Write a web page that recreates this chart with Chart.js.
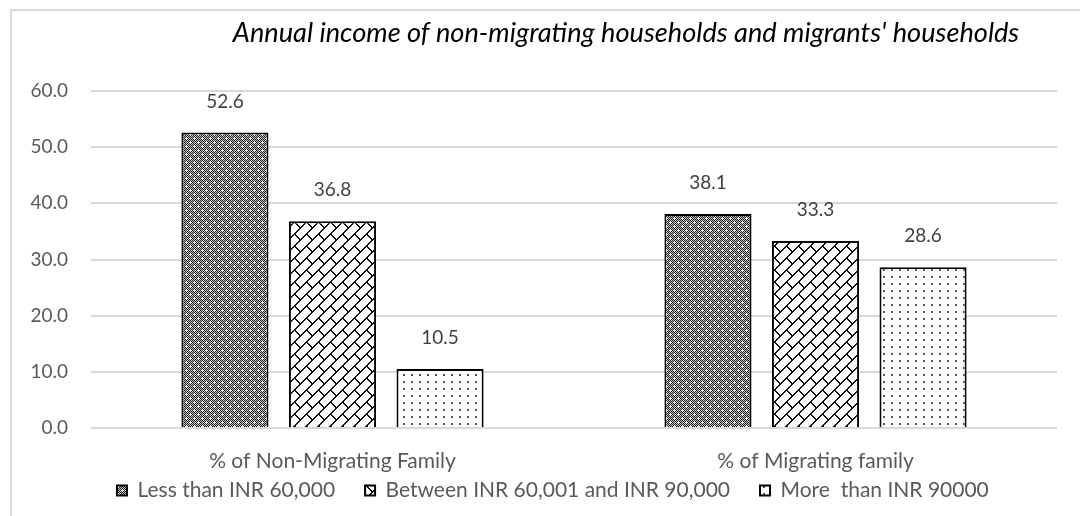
<!DOCTYPE html>
<html><head><meta charset="utf-8">
<script src="https://cdn.jsdelivr.net/npm/chart.js@4.4.1/dist/chart.umd.min.js"></script>
<style>html,body{margin:0;padding:0;background:#fff;}#wrap{width:1080px;height:516px;}</style>
</head><body><div id="wrap"><canvas id="c" width="1080" height="516"></canvas></div>
<script>
const categories = ['% of Non-Migrating Family', '% of Migrating family'];
const seriesNames = ['Less than INR 60,000', 'Between INR 60,001 and INR 90,000', 'More  than INR 90000'];
const lessThan60k = [52.6, 38.1];
const between60kAnd90k = [36.8, 33.3];
const moreThan90k = [10.5, 28.6];
const yTicks = [0, 10, 20, 30, 40, 50, 60];
const chartTitle = "Annual income of non-migrating households and migrants' households";

const FONT = 'Lato, "Open Sans", sans-serif';
const LEGEND_LAYOUT_PAD = 8;
const LEGEND_GAP = 30;
const LEGEND_START_X = 117;

function makeTile(w, h, draw) {
  const c = document.createElement('canvas'); c.width = w; c.height = h;
  const g = c.getContext('2d'); draw(g); return c;
}
const canvas = document.getElementById('c');
const ctx0 = canvas.getContext('2d');

const patDark = ctx0.createPattern(makeTile(8, 8, g => {
  for (let y = 0; y < 8; y++) for (let x = 0; x < 8; x++) {
    g.fillStyle = ((x + y) % 2) ? '#c4c4c4' : '#1e1e1e'; g.fillRect(x, y, 1, 1);
  }
  g.fillStyle = '#ffffff';
  g.fillRect(1, 2, 3, 1); g.fillRect(2, 1, 1, 3);
  g.fillRect(5, 6, 3, 1); g.fillRect(6, 5, 1, 3);
}), 'repeat');

const patBrick = ctx0.createPattern(makeTile(12, 12, g => {
  g.fillStyle = '#ffffff'; g.fillRect(0, 0, 12, 12);
  g.fillStyle = '#111111';
  for (let i = 0; i < 12; i++) { g.fillRect(i, 11 - i, 1, 1); g.fillRect((i + 1) % 12, 11 - i, 1, 1); }
  for (let k = 0; k < 6; k++) { g.fillRect(6 + k, 5 + k, 1, 1); g.fillRect(6 + k, 6 + k, 1, 1); }
}), 'repeat');

const patDots = ctx0.createPattern(makeTile(8, 7, g => {
  g.fillStyle = '#ffffff'; g.fillRect(0, 0, 8, 7);
  g.fillStyle = '#555555'; g.fillRect(3, 3, 2, 2);
}), 'repeat');

const frame = {
  id: 'frame',
  beforeDraw(chart) {
    const c = chart.ctx;
    c.save(); c.fillStyle = '#ffffff'; c.fillRect(0, 0, chart.width, chart.height);
    c.fillStyle = '#d9d9d9';
    c.fillRect(10, 9, 1070, 2);
    c.fillRect(10, 9, 2, 507);
    c.restore();
    // spread legend entries horizontally without changing the vertical text position
    const lg = chart.legend;
    if (lg && lg.options && lg.options.labels) {
      try {
        const dy = LEGEND_GAP - LEGEND_LAYOUT_PAD;
        lg.options.labels.padding = LEGEND_GAP;
        if (lg.options.labels.padding === LEGEND_GAP) {
          lg.top -= dy;
          lg.left = LEGEND_START_X - LEGEND_GAP;
        }
      } catch (e) {}
    }
  },
  afterDraw(chart) {
    const c = chart.ctx;
    c.save();
    let size = 24;
    c.font = `italic ${size}px ${FONT}`;
    const w = c.measureText(chartTitle).width;
    size = size * 787 / w;
    c.font = `italic ${size}px ${FONT}`;
    c.fillStyle = '#000000'; c.textAlign = 'center'; c.textBaseline = 'middle';
    c.fillText(chartTitle, 626, 33);
    c.restore();
  }
};

const valueLabels = {
  id: 'valueLabels',
  afterDatasetsDraw(chart) {
    const c = chart.ctx;
    c.save();
    c.font = `19px ${FONT}`; c.fillStyle = '#404040';
    c.textAlign = 'center'; c.textBaseline = 'middle';
    chart.data.datasets.forEach((ds, di) => {
      chart.getDatasetMeta(di).data.forEach((bar, i) => {
        c.fillText(ds.data[i].toFixed(1), bar.x, bar.y - 31);
      });
    });
    c.restore();
  }
};

new Chart(canvas, {
  type: 'bar',
  data: {
    labels: categories,
    datasets: [
      { label: seriesNames[0], data: lessThan60k, backgroundColor: patDark, borderColor: '#000', borderWidth: 2 },
      { label: seriesNames[1], data: between60kAnd90k, backgroundColor: patBrick, borderColor: '#000', borderWidth: 2 },
      { label: seriesNames[2], data: moreThan90k, backgroundColor: patDots, borderColor: '#000', borderWidth: 2 }
    ]
  },
  options: {
    responsive: false, animation: false, devicePixelRatio: 1,
    categoryPercentage: 0.668, barPercentage: 0.81,
    layout: { padding: { left: 0, right: 23, top: 91, bottom: 5 } },
    plugins: {
      legend: {
        position: 'bottom', align: 'start',
        labels: { boxWidth: 10, boxHeight: 10, padding: LEGEND_LAYOUT_PAD, color: '#595959', font: { family: FONT, size: 21 } }
      },
      tooltip: { enabled: false }, title: { display: false }
    },
    scales: {
      x: {
        grid: { display: false, drawTicks: false }, border: { display: false },
        ticks: { color: '#595959', padding: 21, font: { family: FONT, size: 21 } },
        afterFit(s) { s.height = 44; }
      },
      y: {
        min: yTicks[0], max: yTicks[yTicks.length - 1],
        afterBuildTicks(s) { s.ticks = yTicks.map(v => ({ value: v })); },
        grid: { color: '#d9d9d9', lineWidth: 2, drawTicks: false }, border: { display: false },
        ticks: { color: '#595959', padding: 23, font: { family: FONT, size: 19 }, callback: v => Number(v).toFixed(1) },
        afterFit(s) { s.width = 91; }
      }
    }
  },
  plugins: [frame, valueLabels]
});
</script></body></html>
